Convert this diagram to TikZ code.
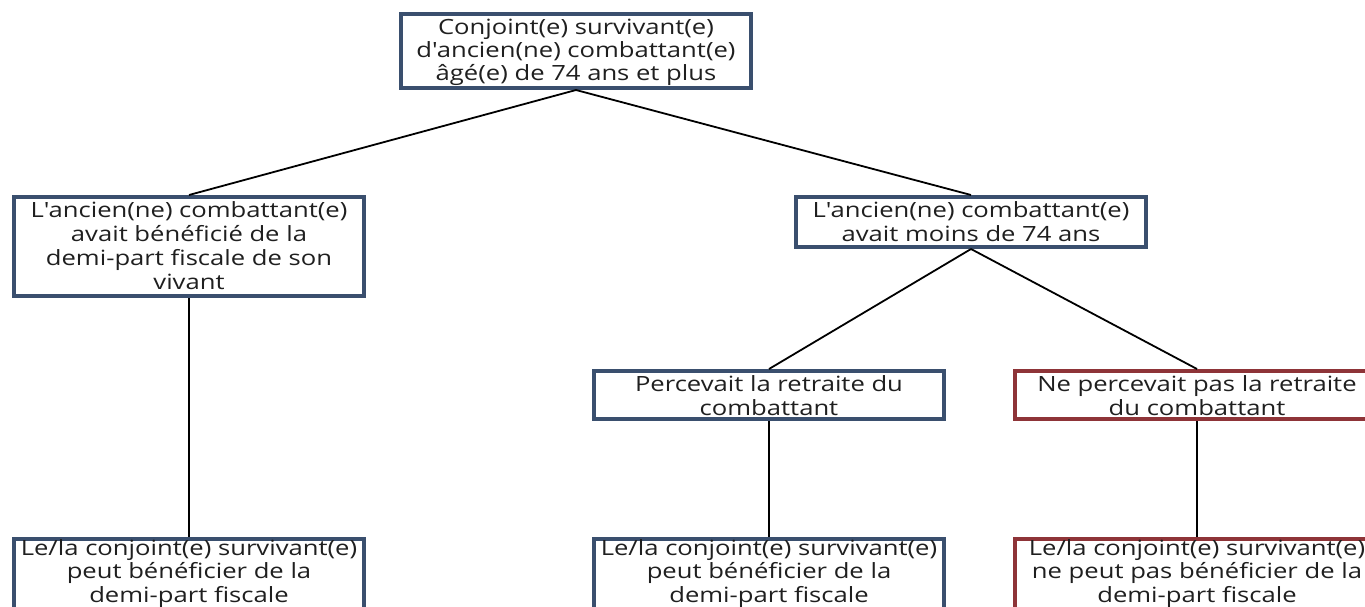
\documentclass[tikz,border=0pt]{standalone}
\usepackage{fontspec}
\setmainfont{Open Sans}[FakeStretch=1.22]
\definecolor{boxblue}{HTML}{3A4F6E}
\definecolor{boxred}{HTML}{8E3438}
\newcommand{\ap}{\textquotesingle}
\begin{document}
\begin{tikzpicture}[x=1pt,y=-1pt,
  tbox/.style={draw=boxblue, line width=4pt, fill=white, minimum width=350pt, inner sep=0pt},
  rbox/.style={tbox, draw=boxred, minimum width=364pt},
  resbox/.style={anchor=north, minimum height=80pt},
  txt/.style={align=center, inner sep=0pt, anchor=base, font=\fontsize{21}{24}\selectfont, text=black!88},
  link/.style={draw=black, line width=1.8pt}]
\path[use as bounding box] (0,0) rectangle (1365,606);
\clip (0,0) rectangle (1365,606);
\fill[white] (0,0) rectangle (1365,606);
% boxes
\node[tbox, minimum height=74pt] (top) at (576,51) {};
\node[tbox, minimum height=99pt] (left) at (189,246.5) {};
\node[tbox, minimum height=50pt] (right) at (971,222) {};
\node[tbox, minimum height=48pt] (perc) at (769,395) {};
\node[rbox, minimum height=48pt] (noperc) at (1197,395) {};
\node[tbox, resbox] (resL) at (189,537) {};
\node[tbox, resbox] (resM) at (769,537) {};
\node[rbox, resbox] (resR) at (1197,537) {};
% texts (anchored at the baseline of their last line)
\node[txt, font=\fontsize{21}{23}\selectfont] (topT) at ([yshift=9.5pt]top.south) {Conjoint(e) survivant(e)\\d\ap ancien(ne) combattant(e)\\âgé(e) de 74 ans et plus};
\node[txt] (leftT) at ([yshift=9pt]left.south) {L\ap ancien(ne) combattant(e)\\avait bénéficié de la\\demi-part fiscale de son\\vivant};
\node[txt] (rightT) at ([yshift=8pt]right.south) {L\ap ancien(ne) combattant(e)\\avait moins de 74 ans};
\node[txt] (percT) at ([yshift=6pt]perc.south) {Percevait la retraite du\\combattant};
\node[txt] (nopercT) at ([yshift=6pt]noperc.south) {Ne percevait pas la retraite\\du combattant};
\node[txt, font=\fontsize{21}{23.2}\selectfont] (resLT) at ([yshift=-65pt]resL.north) {Le/la conjoint(e) survivant(e)\\peut bénéficier de la\\demi-part fiscale};
\node[txt, font=\fontsize{21}{23.2}\selectfont] (resMT) at ([yshift=-65pt]resM.north) {Le/la conjoint(e) survivant(e)\\peut bénéficier de la\\demi-part fiscale};
\node[txt, font=\fontsize{21}{23.2}\selectfont] (resRT) at ([yshift=-65pt]resR.north) {Le/la conjoint(e) survivant(e)\\ne peut pas bénéficier de la\\demi-part fiscale};
% connectors
\draw[link] (top.south) -- (left.north);
\draw[link] (top.south) -- (right.north);
\draw[link] (right.south) -- (perc.north);
\draw[link] (right.south) -- (noperc.north);
\draw[link] (left.south) -- (resL.north);
\draw[link] (perc.south) -- (resM.north);
\draw[link] (noperc.south) -- (resR.north);
\end{tikzpicture}
\end{document}
